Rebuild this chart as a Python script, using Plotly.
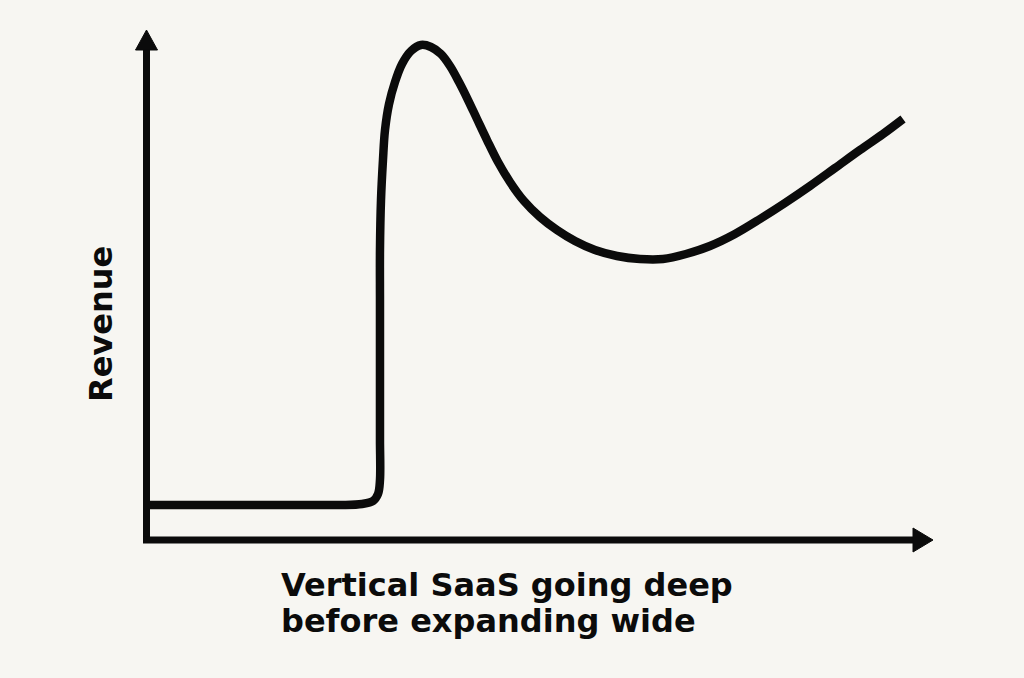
import plotly.graph_objects as go

# Schematic data (time in arbitrary units 0-100, revenue in arbitrary units 0-100)
time = [0.51, 6.86, 13.21, 19.57, 24.65, 27.45, 28.84, 29.48, 29.73, 29.73, 29.73,
        29.73, 29.73, 29.73, 29.86, 30.11, 30.37, 30.88, 31.64, 32.53, 33.67,
        34.94, 36.21, 37.48, 38.63, 39.77, 40.92, 42.06, 43.33, 44.73, 46.25, 48.03,
        50.06, 52.22, 54.51, 57.05, 59.85, 62.77, 65.69, 68.61, 71.66, 74.84, 78.02,
        81.19, 84.37, 87.55, 90.72, 93.65, 96.19]
revenue = [6.86, 6.86, 6.86, 6.86, 6.86, 7.06, 7.65, 9.02, 11.76, 19.61, 27.45,
           37.25, 47.06, 56.86, 66.67, 74.51, 80.39, 85.49, 89.80, 93.33, 95.88,
           97.06, 96.67, 95.29, 92.94, 89.80, 86.27, 82.55, 78.43, 74.12, 70.20, 66.47,
           63.33, 60.78, 58.63, 56.86, 55.69, 55.10, 55.10, 56.08, 57.65, 60.00, 62.94,
           66.08, 69.41, 72.94, 76.47, 79.61, 82.55]

x_title_lines = ["Vertical SaaS going deep", "before expanding wide"]
y_title = "Revenue"

W, H = 1024, 678
L, R, T, B = 146, 91, 30, 138
PW, PH = W - L - R, H - T - B

def px(xp):
    return (xp - L) / PW

def py(yp):
    return (H - B - yp) / PH

BG = "#f7f6f2"
INK = "#0b0b0b"

fig = go.Figure()
fig.add_trace(go.Scatter(
    x=time, y=revenue, mode="lines",
    line=dict(color=INK, width=8.5, shape="spline", smoothing=1.0),
    hoverinfo="skip", showlegend=False,
))

shapes = [
    # y axis
    dict(type="line", xref="paper", yref="paper", x0=px(146.5), y0=py(540), x1=px(146.5), y1=py(48),
         line=dict(color=INK, width=7)),
    dict(type="path", xref="paper", yref="paper",
         path=f"M {px(146.5)} {py(30)} L {px(135.5)} {py(50)} L {px(157.5)} {py(50)} Z",
         fillcolor=INK, line=dict(color=INK, width=1)),
    # x axis
    dict(type="line", xref="paper", yref="paper", x0=px(143), y0=py(540), x1=px(915), y1=py(540),
         line=dict(color=INK, width=7)),
    dict(type="path", xref="paper", yref="paper",
         path=f"M {px(933)} {py(540)} L {px(913)} {py(528)} L {px(913)} {py(552)} Z",
         fillcolor=INK, line=dict(color=INK, width=1)),
]

font = dict(family="DejaVu Sans", size=32, color=INK, weight="bold")
annotations = [
    dict(text=x_title_lines[0], xref="paper", yref="paper", x=px(279), y=py(585),
         xanchor="left", yanchor="middle", showarrow=False, font=font),
    dict(text=x_title_lines[1], xref="paper", yref="paper", x=px(279), y=py(621),
         xanchor="left", yanchor="middle", showarrow=False, font=font),
    dict(text=y_title, xref="paper", yref="paper", x=px(101), y=py(324),
         xanchor="center", yanchor="middle", textangle=-90, showarrow=False, font=font),
]

fig.update_layout(
    width=W, height=H,
    margin=dict(l=L, r=R, t=T, b=B, pad=0),
    paper_bgcolor=BG, plot_bgcolor=BG,
    xaxis=dict(range=[0, 100], visible=False, fixedrange=True),
    yaxis=dict(range=[0, 100], visible=False, fixedrange=True),
    shapes=shapes, annotations=annotations,
)

fig.write_html(
    "out.html",
    config={"displayModeBar": False},
    post_script="document.body.style.margin='0';document.body.style.background='" + BG + "';",
)
